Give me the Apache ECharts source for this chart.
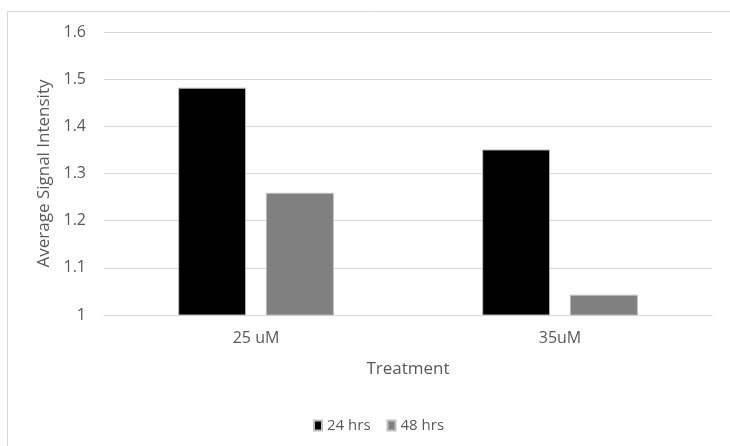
<!DOCTYPE html>
<html>
<head>
<meta charset="utf-8">
<script src="https://cdn.jsdelivr.net/npm/echarts@6/dist/echarts.min.js"></script>
<style>
html,body{margin:0;padding:0;background:#fff;}
#chart{width:730px;height:446px;}
</style>
</head>
<body>
<div id="chart"></div>
<script>
const categories = ['25 uM', '35uM'];
const seriesNames = ['24 hrs', '48 hrs'];
const values24 = [1.482, 1.351];
const values48 = [1.259, 1.043];
const yTicks = { min: 1, max: 1.6, interval: 0.1 };

const chart = echarts.init(document.getElementById('chart'), null, { renderer: 'canvas' });
const txt = '#595959';
const font = '"Open Sans", "Liberation Sans", sans-serif';
chart.setOption({
  animation: false,
  textStyle: { fontFamily: font },
  graphic: [{
    type: 'rect', silent: true,
    shape: { x: 7.5, y: 11.5, width: 740, height: 460 },
    style: { fill: 'none', stroke: '#d9d9d9', lineWidth: 1 }
  }],
  grid: { left: 104, right: 18, top: 32, bottom: 131, containLabel: false },
  legend: {
    data: seriesNames,
    top: 413, left: 308,
    itemWidth: 8, itemHeight: 10, itemGap: 16,
    icon: 'rect',
    textStyle: { color: txt, fontSize: 15, fontFamily: font }
  },
  xAxis: {
    type: 'category',
    data: categories,
    name: 'Treatment',
    nameLocation: 'middle',
    nameGap: 46,
    nameTextStyle: { color: txt, fontSize: 17, fontFamily: font },
    axisLine: { lineStyle: { color: '#d9d9d9' } },
    axisTick: { show: false },
    axisLabel: { color: txt, fontSize: 16, margin: 15, fontFamily: font }
  },
  yAxis: {
    type: 'value',
    min: yTicks.min, max: yTicks.max, interval: yTicks.interval,
    name: 'Average Signal Intensity',
    nameLocation: 'middle',
    nameGap: 46,
    nameTextStyle: { color: txt, fontSize: 17, fontFamily: font },
    axisLine: { show: false },
    axisTick: { show: false },
    axisLabel: { color: txt, fontSize: 16, margin: 18, fontFamily: font,
      formatter: v => (Math.abs(v - 1) < 1e-9 ? '1' : v.toFixed(1)) },
    splitLine: { lineStyle: { color: '#d9d9d9' } }
  },
  series: [
    { name: seriesNames[0], type: 'bar', data: values24, barWidth: 68, barGap: '29%',
      itemStyle: { color: '#000000', borderColor: '#bfbfbf', borderWidth: 1 } },
    { name: seriesNames[1], type: 'bar', data: values48, barWidth: 68,
      itemStyle: { color: '#808080', borderColor: '#bfbfbf', borderWidth: 1 } }
  ]
});
</script>
</body>
</html>
